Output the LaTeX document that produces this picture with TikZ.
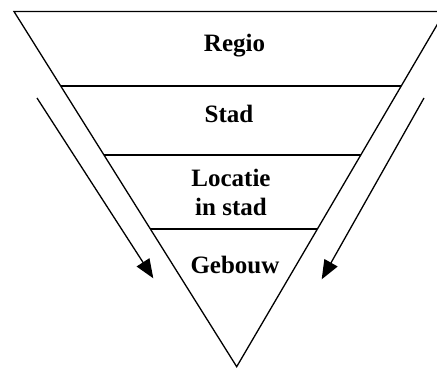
\documentclass[tikz,border=0pt]{standalone}
\usepackage{fontspec}
\setmainfont{Liberation Serif}
\usetikzlibrary{calc,arrows.meta}
\begin{document}
\begin{tikzpicture}[x=1pt,y=-1pt,
  edge/.style={line width=1.3pt,line join=miter},
  level/.style={font=\fontsize{25}{29}\selectfont\bfseries,align=center,anchor=base,inner sep=0pt},
  flow/.style={line width=1.3pt,-{Triangle[length=19pt,width=15pt]}}]
\useasboundingbox (0,0) rectangle (437,369);
\clip (0,0) rectangle (437,369);
% corners of the inverted triangle
\coordinate (L) at (14,11.5);
\coordinate (R) at (444.9,11.5);
\coordinate (A) at (236.7,366.7);
\draw[edge] (L) -- (R) -- (A) -- cycle;
% dividing lines between the levels
\foreach \t/\n in {0.2097/a,0.404/b,0.6123/c}{
  \coordinate (l\n) at ($(L)!\t!(A)$);
  \coordinate (r\n) at ($(R)!\t!(A)$);
  \draw[edge] (l\n) -- (r\n);
}
% level labels (a two-line node sits on the baseline of its last line)
\node[level] (regio) at (234.5,51.7) {Regio};
\node[level] (stad) at (229,122.3) {Stad};
\node[level] (locatie) at (231,215) {Locatie\\in stad};
\node[level] (gebouw) at (235,273.3) {Gebouw};
% side arrows
\coordinate (s1) at (37,98);
\coordinate (e1) at (153.3,278.3);
\coordinate (s2) at (424,98);
\coordinate (e2) at (321.7,279.3);
\draw[flow] (s1) -- (e1);
\draw[flow] (s2) -- (e2);
\end{tikzpicture}
\end{document}
